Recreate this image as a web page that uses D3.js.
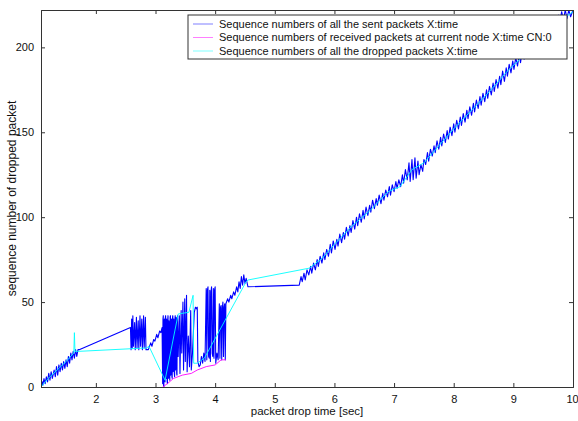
<!DOCTYPE html>
<html>
<head>
<meta charset="utf-8">
<script src="https://cdn.jsdelivr.net/npm/d3@7"></script>
<style>
  body { margin: 0; background: #fff; }
  svg { display: block; font-family: "Liberation Sans", Arial, sans-serif; }
</style>
</head>
<body>
<div id="chart"></div>
<script>
// Axis setup
const xTicks = [2, 3, 4, 5, 6, 7, 8, 9, 10];
const yTicks = [0, 50, 100, 150, 200];
const xDomain = [1.08, 10];
const yDomain = [0, 222];

const legendLabels = [
    "Sequence numbers of all the sent packets X:time",
    "Sequence numbers of received packets at current node X:time CN:0",
    "Sequence numbers of all the dropped packets X:time"
];

// Sent packets [time, seq]
const sentPackets = [
    [1.08,0],[1.10,3],[1.11,1],[1.13,5],[1.15,2],[1.17,6],[1.19,3],[1.21,8],[1.23,4],[1.25,9],[1.27,5],[1.30,10],
    [1.32,6],[1.34,12],[1.36,7],[1.38,13],[1.40,9],[1.42,14],[1.44,10],[1.46,15],[1.48,11],[1.50,16],[1.52,12],[1.54,18],
    [1.56,14],[1.58,20],[1.60,16],[1.62,21],[1.64,17],[1.66,22],[1.68,18],[1.70,22],[1.72,22],
    [2.58,35],[2.59,22],[2.60,40],[2.61,23],[2.62,42],[2.63,24],[2.65,38],[2.66,22],[2.68,41],[2.69,23],
    [2.71,39],[2.72,22],[2.74,42],[2.75,24],[2.77,40],[2.78,22],[2.80,42],[2.81,23],[2.83,41],[2.84,22],
    [2.88,22],[2.92,26],[2.94,24],[2.97,28],[2.99,27],[3.02,31],[3.04,29],[3.07,33],[3.09,32],[3.11,35],
    [3.12,2],[3.125,40],[3.13,42],[3.135,1],[3.14,0],[3.145,38],[3.15,40],[3.155,4],[3.16,3],[3.165,41],[3.17,42],[3.175,6],[3.18,5],[3.185,40],[3.19,38],[3.195,3],[3.20,2],[3.205,40],[3.21,42],
    [3.215,5],[3.22,6],[3.225,39],[3.23,35],[3.235,6],[3.24,4],[3.245,41],[3.25,42],[3.255,7],[3.26,8],[3.265,38],[3.27,40],[3.275,6],[3.28,5],[3.285,41],[3.29,42],[3.295,9],[3.30,10],[3.305,40],[3.31,36],
    [3.315,8],[3.32,6],[3.325,40],[3.33,42],[3.335,10],[3.34,12],[3.345,41],[3.35,40],[3.355,8],[3.36,7],[3.365,40],[3.37,42],[3.38,18],[3.40,42],[3.41,8],[3.43,45],
    [3.44,20],[3.46,50],[3.47,10],[3.49,52],[3.50,15],[3.52,54],[3.53,9],[3.55,30],[3.57,12],[3.59,45],
    [3.60,10],[3.62,20],[3.65,44],[3.67,47],[3.69,46],[3.70,47],[3.71,15],[3.73,12],[3.75,13],
    [3.77,18],[3.79,14],[3.81,20],[3.83,15],[3.85,58],[3.86,16],[3.87,57],[3.88,59],[3.89,18],[3.90,17],[3.91,57],[3.92,15],[3.93,56],
    [3.94,59],[3.95,20],[3.96,18],[3.97,58],[3.98,17],[3.99,57],[4.00,59],[4.01,14],[4.03,20],[4.05,16],[4.07,49],[4.08,17],[4.09,47],
    [4.10,48],[4.11,16],[4.12,46],[4.13,50],[4.14,18],[4.15,47],[4.16,49],[4.17,16],[4.18,49],[4.21,52],[4.23,50],[4.26,54],
    [4.28,52],[4.31,56],[4.33,54],[4.36,59],[4.38,56],[4.40,62],[4.42,58],[4.44,65],[4.46,60],[4.48,66],
    [4.50,61],[4.52,64],[4.55,59],[5.41,60],
    [5.44,65],[5.46,62],[5.49,67],[5.51,63],[5.54,69],[5.57,66],[5.60,71],[5.62,67],[5.65,73],[5.68,69],
    [5.71,75],[5.73,71],[5.76,77],[5.79,73],[5.82,79],[5.84,75],[5.87,81],[5.90,77],[5.93,84],[5.95,79],
    [5.98,86],[6.01,81],[6.04,87],[6.06,83],[6.09,90],[6.12,85],[6.15,91],[6.17,87],[6.20,94],[6.23,89],
    [6.26,95],[6.28,91],[6.31,98],[6.34,93],[6.37,100],[6.39,95],[6.42,102],[6.45,97],[6.48,104],[6.50,99],
    [6.53,106],[6.56,101],[6.59,107],[6.61,103],[6.64,110],[6.67,105],[6.70,111],[6.72,107],[6.75,113],[6.78,108],
    [6.81,114],[6.83,110],[6.86,116],[6.89,112],[6.92,118],[6.94,113],[6.97,119],[7.00,115],[7.03,121],[7.05,117],
    [7.08,122],[7.11,118],[7.14,125],[7.16,120],[7.19,128],[7.22,122],[7.25,132],[7.27,121],[7.30,134],[7.32,122],
    [7.35,135],[7.37,123],[7.40,133],[7.42,125],[7.45,131],[7.48,127],[7.50,134],[7.53,131],[7.56,138],[7.58,133],
    [7.61,140],[7.64,136],[7.67,142],[7.69,138],[7.72,145],[7.75,140],[7.78,147],[7.80,142],[7.83,149],[7.86,144],
    [7.89,151],[7.91,146],[7.94,153],[7.97,148],[8.00,155],[8.02,150],[8.05,157],[8.08,152],[8.11,159],[8.13,154],
    [8.16,161],[8.19,156],[8.22,163],[8.24,158],[8.27,165],[8.30,160],[8.33,167],[8.35,162],[8.38,169],[8.41,164],
    [8.44,171],[8.46,166],[8.49,173],[8.52,168],[8.55,175],[8.57,170],[8.60,177],[8.63,172],[8.66,179],[8.68,174],
    [8.71,181],[8.74,176],[8.77,183],[8.79,178],[8.82,186],[8.85,180],[8.88,188],[8.90,183],[8.93,190],[8.96,185],
    [8.99,192],[9.01,187],[9.04,194],[9.07,189],[9.10,196],[9.12,191],[9.15,198],[9.18,193],[9.21,200],[9.23,195],
    [9.26,202],[9.29,197],[9.32,204],[9.34,199],[9.37,206],[9.40,201],[9.43,208],[9.45,203],[9.48,210],[9.51,205],
    [9.54,212],[9.56,207],[9.59,214],[9.62,209],[9.65,216],[9.67,211],[9.70,218],[9.73,213],[9.76,219],[9.78,215],
    [9.81,221],[9.84,216],[9.87,222],[9.90,217],[9.93,222],[9.96,218],[10.0,222]
];

// Received packets at current node [time, seq]
const receivedPackets = [
    [3.12,0],[3.20,2],[3.30,5],[3.45,7],[3.60,8],[3.70,10],[3.85,12],[4.00,13],[4.10,16],[4.18,16]
];

// Dropped packets [time, seq]
const droppedPackets = [
    [1.08,0],[1.20,5],[1.35,10],[1.50,15],[1.63,20],[1.64,32],[1.65,21],[1.72,21],[2.85,23],[2.89,24],
    [3.16,4],[3.38,43],[3.56,44],[3.63,54],[3.64,14],[3.70,14],[3.82,17],[4.52,62],[4.55,63],[5.58,70],
    [5.80,76],[6.00,84],[6.30,95],[6.60,104],[6.90,115],[7.10,118],[7.30,128],[7.50,132],[7.70,140],[8.00,152],
    [8.30,163],[8.60,174],[8.90,186],[9.20,196],[9.50,207],[9.80,216],[10.0,221]
];

const colors = ["#0000ff", "#ff00ff", "#00ffff"];
const widths = [1.1, 0.9, 0.9];

// Size
const width = 578, height = 421;
const margin = {left: 41, right: 5, top: 10, bottom: 34};

const svg = d3.select("#chart").append("svg")
    .attr("width", width)
    .attr("height", height);

const x = d3.scaleLinear().domain(xDomain).range([margin.left, width - margin.right]);
const y = d3.scaleLinear().domain(yDomain).range([height - margin.bottom, margin.top]);

svg.append("clipPath").attr("id", "plotclip")
    .append("rect")
    .attr("x", margin.left).attr("y", margin.top)
    .attr("width", width - margin.left - margin.right)
    .attr("height", height - margin.top - margin.bottom);

const line = d3.line().x(d => x(d[0])).y(d => y(d[1]));

const plot = svg.append("g").attr("clip-path", "url(#plotclip)");
[sentPackets, receivedPackets, droppedPackets].forEach((series, i) => {
    plot.append("path")
        .datum(series)
        .attr("fill", "none")
        .attr("stroke", colors[i])
        .attr("stroke-width", widths[i])
        .attr("stroke-linejoin", "round")
        .attr("d", line);
});

// Axes with inward ticks (matlab box style)
const axisColor = "#333";
const bottomAxis = svg.append("g")
    .attr("transform", `translate(0,${height - margin.bottom})`)
    .call(d3.axisBottom(x).tickValues(xTicks).tickSize(-4).tickPadding(8).tickFormat(d3.format("d")));
const topAxis = svg.append("g")
    .attr("transform", `translate(0,${margin.top})`)
    .call(d3.axisTop(x).tickValues(xTicks).tickSize(-4).tickFormat(""));
const leftAxis = svg.append("g")
    .attr("transform", `translate(${margin.left},0)`)
    .call(d3.axisLeft(y).tickValues(yTicks).tickSize(-4).tickPadding(7));
const rightAxis = svg.append("g")
    .attr("transform", `translate(${width - margin.right},0)`)
    .call(d3.axisRight(y).tickValues(yTicks).tickSize(-4).tickFormat(""));

[bottomAxis, topAxis, leftAxis, rightAxis].forEach(a => {
    a.select(".domain").attr("stroke", axisColor);
    a.selectAll(".tick line").attr("stroke", axisColor);
    a.selectAll("text").attr("fill", "#111").style("font-size", "11px");
});
// keep the last tick label inside the window
bottomAxis.selectAll(".tick text").filter(d => d === 10).attr("dx", "-1px");

// Axis labels
svg.append("text")
    .attr("x", (margin.left + width - margin.right) / 2)
    .attr("y", height - 6)
    .attr("text-anchor", "middle")
    .style("font-size", "11.5px")
    .attr("fill", "#111")
    .text("packet drop time [sec]");

svg.append("text")
    .attr("transform", `translate(16,${(margin.top + height - margin.bottom) / 2}) rotate(-90)`)
    .attr("text-anchor", "middle")
    .style("font-size", "12px")
    .attr("fill", "#111")
    .text("sequence number of dropped packet");

// Legend
const legend = svg.append("g").attr("transform", "translate(188,15)");
legend.append("rect")
    .attr("width", 379).attr("height", 44)
    .attr("fill", "#fff").attr("stroke", axisColor).attr("stroke-width", 1);
legendLabels.forEach((label, i) => {
    const row = legend.append("g").attr("transform", `translate(0,${9 + i * 13.5})`);
    row.append("line")
        .attr("x1", 5).attr("x2", 25)
        .attr("stroke", colors[i]).attr("stroke-opacity", 0.5).attr("stroke-width", 1);
    row.append("text")
        .attr("x", 31).attr("dy", "0.35em")
        .style("font-size", "11px")
        .attr("fill", "#111")
        .text(label);
});
</script>
</body>
</html>
